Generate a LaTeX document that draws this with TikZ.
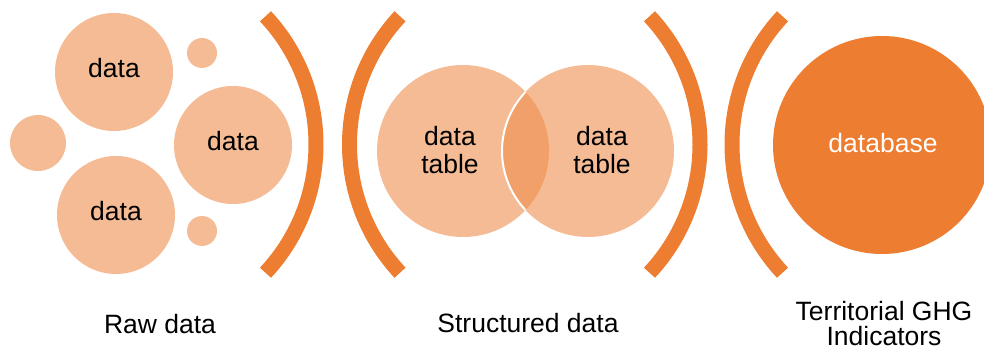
\documentclass[tikz,border=0pt]{standalone}
\usepackage{fontspec}
\setmainfont{Liberation Sans}
\definecolor{orangeM}{HTML}{ED7D31}
\definecolor{peach}{HTML}{F5BB95}
\definecolor{lensc}{HTML}{F0A068}
\begin{document}
\begin{tikzpicture}[x=1pt,y=-1pt,
  txt/.style={font=\fontsize{26.5}{28}\selectfont, text=black, align=center, inner sep=0pt},
  lbl/.style={font=\fontsize{26.5}{25}\selectfont, text=black, align=center, inner sep=0pt},
  blob/.style={circle, fill=peach, draw=none, inner sep=0pt},
  brk/.style={draw=orangeM, line width=15pt}]
\useasboundingbox (0,0) rectangle (984,352);

% raw data bubbles
\node[blob, minimum size=118] (r1) at (114,72) {};
\node[blob, minimum size=118] (r2) at (233,145) {};
\node[blob, minimum size=118] (r3) at (116,215) {};
\node[blob, minimum size=56] (s1) at (38,143) {};
\node[blob, minimum size=30] (s2) at (202,53) {};
\node[blob, minimum size=30] (s3) at (202,231) {};
\node[txt, anchor=base] (t1) at (114,78) {data};
\node[txt, anchor=base] (t2) at (233,151) {data};
\node[txt, anchor=base] (t3) at (116,221) {data};

% brackets
\coordinate (c1) at (128,144.5);
\coordinate (c2) at (537.5,144.5);
\coordinate (c3) at (512,144.5);
\coordinate (c4) at (920,144.5);
\draw[brk] ([shift={(-43:188)}]c1) arc[start angle=-43, end angle=43, radius=188];
\draw[brk] ([shift={(137:188)}]c2) arc[start angle=137, end angle=223, radius=188];
\draw[brk] ([shift={(-43:188)}]c3) arc[start angle=-43, end angle=43, radius=188];
\draw[brk] ([shift={(137:188)}]c4) arc[start angle=137, end angle=223, radius=188];

% structured data
\node[blob, minimum size=172] (ml) at (463,151) {};
\node[blob, minimum size=172] (mr) at (588,151) {};
\begin{scope}
  \clip (ml.center) circle[radius=86];
  \fill[lensc] (mr.center) circle[radius=86];
\end{scope}
\begin{scope}
  \clip (ml.center) circle[radius=86];
  \draw[white, line width=2pt] (mr.center) circle[radius=86];
\end{scope}
\node[txt, anchor=north] (tl) at (450,126) {data\\table};
\node[txt, anchor=north] (tr) at (602,126) {data\\table};

% database
\node[circle, fill=orangeM, draw=none, minimum size=218, inner sep=0pt] (db) at (882,145) {};
\node[txt, text=white, anchor=base] (tdb) at (883,153) {database};

% labels
\node[lbl, anchor=base] (l1) at (160,333) {Raw data};
\node[lbl, anchor=base] (l2) at (528,332) {Structured data};
\node[lbl, anchor=north] (l3) at (884,301) {Territorial GHG\\Indicators};
\end{tikzpicture}
\end{document}
